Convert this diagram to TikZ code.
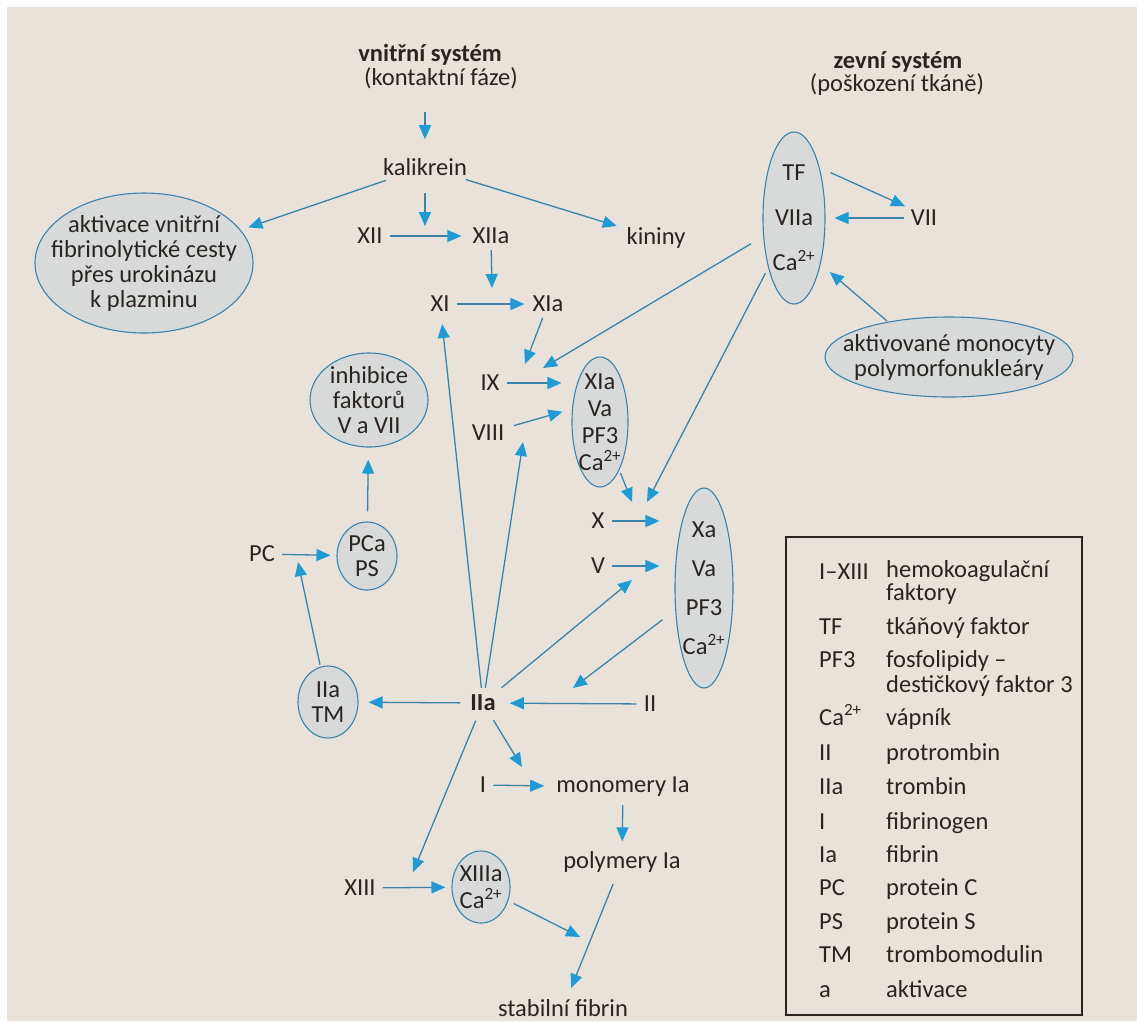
\documentclass[tikz,border=0pt]{standalone}
\usepackage{fontspec}
\setmainfont{Carlito}
\usetikzlibrary{arrows.meta,shapes.geometric}
\definecolor{paper}{HTML}{E9E2DA}
\definecolor{ink}{HTML}{2A2420}
\definecolor{lineblue}{HTML}{3D82AA}
\definecolor{tipblue}{HTML}{1E9AD4}
\definecolor{ellfill}{HTML}{D8D9D9}
\newcommand{\caion}{Ca\textsuperscript{2+}}
\begin{document}
\begin{tikzpicture}[x=1pt,y=-1pt,
    every node/.style={font=\fontsize{24.5}{25}\selectfont, text=ink, inner sep=2pt},
    bold/.style={font=\fontsize{24.5}{25}\selectfont\bfseries},
    arr/.style={draw=lineblue, line width=1.3pt, -{Triangle[length=14pt,width=12pt,color=tipblue]}, shorten <=5pt, shorten >=6pt},
    ell/.style={ellipse, draw=lineblue, fill=ellfill, line width=1.1pt, inner sep=0pt},
    ltxt/.style={anchor=base west, align=left, font=\fontsize{24.5}{21}\selectfont}]
    % paper
    \fill[white] (0,0) rectangle (1137,1021) ;
    \fill[paper] (7,7) rectangle (1137,1021) ;
    % headings
    \draw (430,55) node[bold] (vnitr) {vnitřní systém} ;
    \draw (441,78) node (kont) {(kontaktní fáze)} ;
    \draw (898,62) node[bold] (zevni) {zevní systém} ;
    \draw (897,85) node (poskoz) {(poškození tkáně)} ;
    % ellipses
    \draw (144,263) node[ell, minimum width=218pt, minimum height=140pt] (akt) {} ;
    \draw (akt) node[align=center] (akt-t) {aktivace vnitřní\\fibrinolytické cesty\\přes urokinázu\\k plazminu} ;
    \draw (794,218) node[ell, minimum width=62pt, minimum height=172pt] (tfe) {} ;
    \draw (tfe) node[align=center] (tfe-t) {TF\\[20pt]VIIa\\[20pt]\caion} ;
    \draw (949,357) node[ell, minimum width=248pt, minimum height=80pt] (mcy) {} ;
    \draw (mcy) node[align=center] (mcy-t) {aktivované monocyty\\polymorfonukleáry} ;
    \draw (600,422) node[ell, minimum width=56pt, minimum height=130pt] (e9) {} ;
    \draw (e9) node[align=center] (e9-t) {XIa\\[2pt]Va\\[2pt]PF3\\[2pt]\caion} ;
    \draw (704,588) node[ell, minimum width=58pt, minimum height=200pt] (xae) {} ;
    \draw (xae) node[align=center] (xae-t) {Xa\\[14pt]Va\\[14pt]PF3\\[14pt]\caion} ;
    \draw (369,400) node[ell, minimum width=118pt, minimum height=94pt] (inh) {} ;
    \draw (inh) node[align=center] (inh-t) {inhibice\\faktorů\\V a VII} ;
    \draw (367,556) node[ell, minimum width=60pt, minimum height=68pt] (pca) {} ;
    \draw (pca) node[align=center] (pca-t) {PCa\\PS} ;
    \draw (328,702) node[ell, minimum width=60pt, minimum height=72pt] (tme) {} ;
    \draw (tme) node[align=center] (tme-t) {IIa\\TM} ;
    \draw (481,887) node[ell, minimum width=58pt, minimum height=72pt] (x13e) {} ;
    \draw (x13e) node[align=center] (x13e-t) {XIIIa\\[2pt]\caion} ;
    % factors
    \draw (425,167) node (kal) {kalikrein} ;
    \draw (370,236) node (xii) {XII} ;
    \draw (491,236) node (xiia) {XIIa} ;
    \draw (656,238) node (kin) {kininy} ;
    \draw (440,304) node (xi) {XI} ;
    \draw (548,304) node (xia) {XIa} ;
    \draw (924,218) node (vii) {VII} ;
    \draw (490,383) node (ix) {IX} ;
    \draw (488,433) node (viii) {VIII} ;
    \draw (598,521) node (x) {X} ;
    \draw (598,566) node (v) {V} ;
    \draw (262,554) node (pc) {PC} ;
    \draw (483,703) node[bold] (iia) {IIa} ;
    \draw (650,704) node (ii) {II} ;
    \draw (483,785) node (i) {I} ;
    \draw (623,787) node (mon) {monomery Ia} ;
    \draw (622,862) node (pol) {polymery Ia} ;
    \draw (360,888) node (xiii) {XIII} ;
    \draw (563,1008) node (stab) {stabilní fibrin} ;
    % free arrow ends
    \coordinate (jkal) at (425,226) ;
    \coordinate (jxiia) at (492,288) ;
    \coordinate (jix) at (525,364) ;
    \coordinate (jtf) at (543,368) ;
    \coordinate (jviii) at (523,442) ;
    \coordinate (je9) at (632,502) ;
    \coordinate (jtf2) at (647,502) ;
    \coordinate (jv) at (632,580) ;
    \coordinate (jxa) at (573,688) ;
    \coordinate (jpc) at (298,562) ;
    \coordinate (jmon) at (522,767) ;
    \coordinate (jxiii) at (413,872) ;
    \coordinate (jst) at (580,937) ;
    % arrows
    \draw[arr, shorten <=21pt, shorten >=17pt] (kont.south -| kal) -- (kal.north) ;
    \draw[arr, shorten <=8pt, shorten >=8pt] (kal) -- (akt) ;
    \draw[arr, shorten <=6pt, shorten >=8pt] (kal) -- (kin) ;
    \draw[arr, shorten <=15pt, shorten >=0pt] (kal) -- (jkal) ;
    \draw[arr, shorten >=9pt] (xii) -- (xiia) ;
    \draw[arr, shorten <=4pt, shorten >=0pt] (xiia) -- (jxiia) ;
    \draw[arr] (xi) -- (xia) ;
    \draw[arr, shorten <=4pt, shorten >=0pt] (xia) -- (jix) ;
    \draw[arr, shorten <=14pt, shorten >=0pt] (tfe) -- (jtf) ;
    \draw[arr, shorten <=6pt, shorten >=0pt] (tfe) -- (jtf2) ;
    \draw[arr, shorten <=12pt, shorten >=4pt] (tfe.63) -- (vii.north west) ;
    \draw[arr, shorten >=9pt] (vii) -- (tfe) ;
    \draw[arr, shorten <=1pt, shorten >=12pt] (mcy.150) -- (tfe.-60) ;
    \draw[arr, shorten >=10pt] (ix) -- (ix -| e9.west) ;
    \draw[arr, shorten <=8pt, shorten >=10pt] (viii) -- (e9.155) ;
    \draw[arr, shorten <=3pt, shorten >=0pt] (e9) -- (je9) ;
    \draw[arr, shorten >=15pt] (x) -- (x -| xae.west) ;
    \draw[arr, shorten >=15pt] (v) -- (v -| xae.west) ;
    \draw[arr, shorten <=16pt, shorten >=0pt] (xae) -- (jxa) ;
    \draw[arr, shorten >=12pt] (ii) -- (iia) ;
    \draw[arr, shorten <=8pt, shorten >=10pt] (iia) -- (tme) ;
    \draw[arr, shorten <=2pt, shorten >=0pt] (tme) -- (jpc) ;
    \draw[arr, shorten >=6pt] (pc) -- (pca) ;
    \draw[arr, shorten <=10pt, shorten >=12pt] (pca) -- (inh) ;
    \draw[arr, shorten >=10pt] (iia) -- (xi) ;
    \draw[arr, shorten >=0pt] (iia) -- (jviii) ;
    \draw[arr, shorten <=8pt, shorten >=0pt] (iia) -- (jv) ;
    \draw[arr, shorten <=8pt, shorten >=0pt] (iia) -- (jmon) ;
    \draw[arr, shorten >=10pt] (i) -- (mon) ;
    \draw[arr, shorten <=6pt, shorten >=8pt] (mon) -- (pol) ;
    \draw[arr, shorten <=10pt, shorten >=10pt] (pol) -- (stab) ;
    \draw[arr, shorten <=8pt, shorten >=0pt] (iia) -- (jxiii) ;
    \draw[arr, shorten >=6pt] (xiii) -- (x13e) ;
    \draw[arr, shorten <=6pt, shorten >=0pt] (x13e) -- (jst) ;
    % legend
    \draw[ink, line width=1.2pt] (786,537) rectangle (1082,1015) ;
    \draw (817,579) node[ltxt] (l1) {I–XIII} ;
    \draw (884,600) node[ltxt] (l1d) {hemokoagulační\\faktory} ;
    \draw (817,634) node[ltxt] (l2) {TF} ;
    \draw (884,634) node[ltxt] (l2d) {tkáňový faktor} ;
    \draw (817,667) node[ltxt] (l3) {PF3} ;
    \draw (884,692) node[ltxt] (l3d) {fosfolipidy –\\[4pt]destičkový faktor 3} ;
    \draw (817,725) node[ltxt] (l4) {\caion} ;
    \draw (884,725) node[ltxt] (l4d) {vápník} ;
    \draw (817,760) node[ltxt] (l5) {II} ;
    \draw (884,760) node[ltxt] (l5d) {protrombin} ;
    \draw (817,794) node[ltxt] (l6) {IIa} ;
    \draw (884,794) node[ltxt] (l6d) {trombin} ;
    \draw (817,829) node[ltxt] (l7) {I} ;
    \draw (884,829) node[ltxt] (l7d) {fibrinogen} ;
    \draw (817,862) node[ltxt] (l8) {Ia} ;
    \draw (884,862) node[ltxt] (l8d) {fibrin} ;
    \draw (817,895) node[ltxt] (l9) {PC} ;
    \draw (884,895) node[ltxt] (l9d) {protein C} ;
    \draw (817,929) node[ltxt] (l10) {PS} ;
    \draw (884,929) node[ltxt] (l10d) {protein S} ;
    \draw (817,962) node[ltxt] (l11) {TM} ;
    \draw (884,962) node[ltxt] (l11d) {trombomodulin} ;
    \draw (817,997) node[ltxt] (l12) {a} ;
    \draw (884,997) node[ltxt] (l12d) {aktivace} ;
\end{tikzpicture}
\end{document}
